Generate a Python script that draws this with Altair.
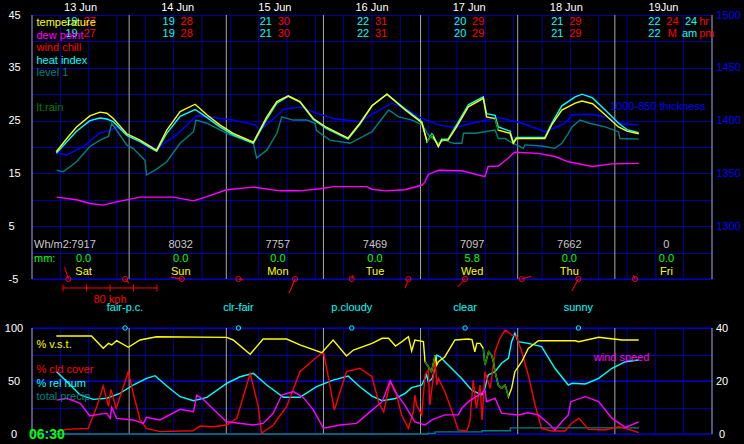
import altair as alt
import pandas as pd

# ---------------- data (x = hours since 13 Jun 00:00) ----------------
day_hours = [0, 24, 48, 72, 96, 120, 144, 168]
grid_hours = list(range(0, 169, 7))
noon_hours = [12, 36, 60, 84, 108, 132, 156]
date_labels = ["13 Jun", "14 Jun", "15 Jun", "16 Jun", "17 Jun", "18 Jun", "19Jun"]
day_names = ["Sat", "Sun", "Mon", "Tue", "Wed", "Thu", "Fri"]
tmin_row1 = ["19", "19", "21", "22", "20", "21", "22"]
tmax_row1 = ["27", "28", "30", "31", "29", "29", "24"]
tmin_row2 = ["19", "19", "21", "22", "20", "21", "22"]
tmax_row2 = ["27", "28", "30", "31", "29", "29", "M"]
unit_cyan = ["24", "am"]
unit_red = ["hr", "pm"]
solar_values = ["7917", "8032", "7757", "7469", "7097", "7662", "0"]
rain_mm = ["0.0", "0.0", "0.0", "0.0", "5.8", "0.0", "0.0"]
wx_hours = [23, 51, 79, 107, 135]
wx_labels = ["fair-p.c.", "clr-fair", "p.cloudy", "clear", "sunny"]

barb_hours = [9, 23, 37, 51, 65, 79, 93, 107, 121, 135, 149]
barb_dir = [342, 138, 279, 101, 203, 18, 200, 223, 74, 209, 335]
barb_kph = [10.7, 5.1, 9.4, 4.3, 13.2, 3.6, 8.4, 9.0, 8.3, 11.7, 3.4]
kph_ticks = [0, 20, 40, 60, 80]

temp_h = [6, 8.6, 11, 14.3, 16.8, 18.5, 20.1, 23.4, 26.7, 30.0,
          30.8, 33.3, 36.6, 40.3, 43.2, 46.4, 49.7, 54.7, 58, 60.5,
          63.3, 66.2, 69.5, 72.8, 78.1, 81, 84, 87.7, 92.2, 96.3,
          97.6, 98.8, 99.1, 100.4, 101.2, 102.8, 104.9, 107.8, 111.5, 112.3,
          114.4, 115.2, 118.1, 118.9, 119.7, 122.6, 126.7, 128.4, 130.9, 134.2,
          135.9, 138.5, 141.6, 144.9, 147, 149.9]
temp_v = [19.1, 21.6, 23.8, 25.9, 26.6, 26.4, 25.4, 22.5, 21.3, 19.75,
          19.4, 23.2, 26.7, 28.1, 26.1, 24.2, 22.6, 20.9, 25.7, 28.6,
          29.7, 28.6, 25.4, 23.7, 21.7, 24.5, 27.8, 30.0, 27.0, 24.6,
          21.0, 22.3, 22.0, 20.1, 21.3, 21.3, 23.8, 27.6, 29.2, 25.7,
          25.4, 23.2, 22.6, 20.7, 21.6, 21.6, 21.6, 24.2, 27.0, 28.3,
          28.7, 28.2, 26.1, 23.8, 23.0, 22.5]
heat_v = [18.8, 21.0, 23.0, 25.0, 25.5, 25.3, 24.8, 22.2, 21.0, 19.5,
          19.2, 22.6, 25.8, 27.1, 25.6, 23.8, 22.3, 20.7, 25.3, 28.3,
          29.6, 28.5, 25.2, 23.5, 21.5, 24.3, 27.8, 30.0, 27.2, 24.8,
          21.0, 22.5, 22.2, 20.1, 21.5, 21.5, 24.2, 28.0, 29.5, 26.3,
          26.0, 23.8, 23.0, 20.9, 21.8, 21.8, 21.8, 24.5, 27.8, 29.5,
          30.0, 29.3, 27.0, 24.5, 23.3, 22.7]
dew_h = [6.1, 11, 14.3, 17.6, 20.9, 26.7, 34.9, 39.9, 43.2, 48.1,
         54.7, 61.3, 66.2, 71.2, 74.4, 82.7, 84, 87.3, 92.2, 96.4,
         97.1, 97.9, 100.4, 106.2, 111.9, 112.7, 115.2, 117.7, 118.9, 119.3,
         125.1, 129.2, 132.5, 138.4, 143.3, 149.9]
dew_v = [10.5, 10.0, 9.3, 9.0, 9.6, 10.5, 10.5, 9.8, 10.6, 11.9,
         12.4, 11.7, 11.7, 12.1, 12.5, 12.5, 12.0, 11.7, 11.9, 12.8,
         13.4, 14.8, 15.6, 15.5, 14.4, 16.3, 16.4, 17.9, 18.8, 19.0,
         18.8, 18.2, 17.2, 16.3, 16.8, 16.9]
lvl_h = [6.1, 7.7, 11, 14.3, 16.8, 18.9, 19.7, 23.4, 25, 27.9,
         28.3, 30.8, 33.3, 36.6, 39.9, 40.5, 43.2, 48.1, 54.7, 55.5,
         58, 60.5, 61.7, 64.5, 67.9, 69.9, 70.3, 73.6, 78.6, 84,
         88.1, 90.6, 93.9, 96.4, 97.9, 100.4, 102, 104.1, 106.2, 106.6,
         109.5, 111.9, 114.4, 115.2, 116.9, 118.1, 121.4, 121.8, 125.9, 129.2,
         130.9, 132.5, 133.4, 135.4, 137.7, 141.6, 144.9, 145.3, 149.9]
lvl_v = [15.6, 15.3, 17.2, 20.1, 21.3, 22.0, 24.5, 20.4, 19.75, 17.5,
         14.7, 15.8, 17.2, 20.7, 22.9, 25.1, 24.5, 22.6, 20.7, 17.9,
         19.4, 22.6, 25.7, 25.1, 25.1, 24.5, 23.1, 21.3, 20.7, 22.9,
         27.0, 25.7, 25.1, 24.2, 22.3, 20.7, 21.3, 20.7, 20.7, 22.6,
         22.6, 22.9, 23.2, 21.6, 21.6, 21.0, 19.75, 20.4, 20.2, 19.75,
         20.7, 22.6, 23.8, 25.1, 24.5, 23.8, 22.9, 21.6, 21.5]
thk_h = [6.1, 8.6, 12.7, 16.8, 19.3, 20.9, 24.2, 27.5, 30.8, 35.7,
         40.7, 44.8, 49.7, 55.1, 56.3, 59.6, 62.1, 66.2, 70.3, 74.4,
         81, 84, 88.9, 92.2, 96.4, 100.4, 104.5, 108.7, 115.3, 121.1,
         126.8, 131.8, 133.4, 138.4, 141.6, 145.8, 149.9]
thk_v = [1369.5, 1367.5, 1375.5, 1388.5, 1390.5, 1394, 1385, 1378.5, 1373.7, 1386.5,
         1404.5, 1403, 1400.5, 1396, 1391, 1401.5, 1410.5, 1413, 1407, 1402,
         1399, 1406, 1416.5, 1411.5, 1402, 1396, 1393.5, 1397.5, 1403, 1397.5,
         1389.5, 1397.5, 1405.5, 1406, 1403.5, 1397, 1396]
temp_rain_periods = [(96.8, 99.8), (114.3, 115.8)]

vst_h = [6, 14.7, 17.6, 18.9, 19.7, 20.9, 23.8, 26.7, 30.8, 48.1,
         49.7, 53.9, 57.1, 62.9, 66.2, 71.6, 74.4, 77.7, 79.4, 84,
         86.5, 88.1, 89.8, 91.4, 93, 93.8, 94.6, 96.7, 97.1, 97.9,
         98.7, 99.6, 100, 100.4, 102, 104.5, 107.8, 108.7, 109.4, 109.9,
         110.7, 111.5, 111.9, 112.8, 113.6, 114, 114.4, 115.2, 116, 116.9,
         117.7, 118.5, 119.3, 121, 122.6, 125.1, 134.2, 135.1, 140, 145.8,
         149.9]
vst_v = [92.5, 92.5, 80.8, 85.5, 84, 88, 81.8, 88.7, 91.8, 91.2,
         88.7, 75.2, 89.6, 89.6, 84, 76.7, 88.7, 73.6, 79.2, 85.5,
         90.3, 90.3, 83, 87.1, 91.8, 78.3, 88.7, 87.1, 68.2, 63.5,
         58.8, 74.5, 65.1, 68.2, 72.9, 88.7, 89.6, 89, 77.6, 85.5,
         85.5, 80.8, 65.1, 77.6, 74, 68.2, 58.8, 46.2, 43.1, 46.2,
         35.2, 43.1, 58.8, 68.2, 80.8, 88, 88, 87.1, 91.2, 88.7,
         88.7]
vst_rain_periods = [(96.8, 99.6), (111.3, 118.3)]
cld_h = [6.1, 8.6, 13.9, 14.7, 16, 17.6, 18.9, 19.5, 20.8, 23.8,
         25, 26.7, 28.3, 31.6, 39.8, 41.5, 44.8, 48.1, 50.6, 53.9,
         55.9, 56.7, 59.6, 62.9, 66.2, 69.5, 72, 73.2, 74.7, 77.7,
         81, 84, 85.7, 86.9, 88.5, 89.8, 91.3, 93, 94.2, 94.6,
         95, 96.3, 97.1, 97.9, 98.3, 99.1, 99.6, 100, 100.4, 102,
         104.1, 105.3, 107.4, 108.2, 109, 109.8, 110.7, 111.2, 111.9, 113.2,
         114.4, 115.6, 116.9, 118.5, 119.7, 121, 122.6, 124.3, 125.9, 128.4,
         131.7, 133.3, 135.1, 137.5, 141.6, 144.9, 147.4, 149.9]
cld_v = [2.2, 4.4, 5.3, 13.2, 25.8, 45.3, 26, 42.1, 24.2, 58.8,
         38.4, 13.2, 5.3, 2.2, 3.1, 7.5, 6.9, 8.5, 14.8, 57.2,
         25.8, 0.6, 8.5, 25.8, 58.8, 69.8, 77.6, 54, 22.6, 58.8,
         62, 54, 29, 21, 49.3, 41, 17.9, 5.3, 21, 36.8,
         27.4, 17.9, 55.7, 60.4, 27.4, 52.5, 71.4, 46.2, 52.5, 39.9,
         17.9, 3.8, 2.8, 11.6, 50.9, 24.2, 46.2, 13.2, 58.8, 43.1,
         77.6, 90.3, 98.1, 93.4, 91.8, 77.6, 55.7, 27.4, 5.3, 2.8,
         2.8, 10.1, 14.8, 4.4, 3.8, 6.9, 4.4, 1.3]
rh_h = [6.1, 8.6, 11.9, 15.1, 18.5, 21.7, 25, 28.3, 30.4, 33.3,
        36.6, 39.9, 43.2, 48.1, 51.4, 54.7, 58, 62.1, 66.2, 70.3,
        74.4, 78.1, 81, 84, 86.5, 89.8, 92.2, 93.8, 96.3, 97.1,
        97.5, 97.9, 98.8, 99.6, 100, 100.8, 102, 106.1, 108.6, 111.1,
        111.9, 112.7, 114.4, 116, 117.7, 118.5, 119.3, 120.1, 122.6, 125.9,
        129.2, 132.5, 133.4, 136.7, 140, 143.3, 146.6, 149.9]
rh_v = [58.8, 49.3, 36.8, 32.7, 33.7, 38.4, 46.2, 52.5, 55, 45.3,
        35.2, 31.4, 34.6, 47.8, 54, 57.2, 46.2, 34.6, 34.6, 44.6,
        50.9, 54.7, 44.6, 35.8, 31.4, 33.5, 38.4, 43.7, 46.2, 52.5,
        55.7, 49.3, 52, 62, 74.5, 72.9, 68.2, 52.5, 41.5, 36.8,
        43.1, 55.7, 58.8, 66.7, 71.4, 87.1, 95, 87.1, 85.5, 82.4,
        62, 46.2, 47.8, 47.2, 52.5, 62, 68.2, 69.8]
wind_h = [6.1, 8.6, 11.9, 14.3, 16.8, 18.5, 19.3, 19.7, 20.9, 25,
          27.5, 28.3, 31.6, 36.6, 39.9, 40.7, 42.3, 44.8, 48.1, 54.7,
          57.1, 59.6, 61.7, 64.6, 67, 69.5, 72, 76.1, 80.2, 84,
          86.5, 88.5, 89.7, 92.1, 94.6, 97.1, 98.8, 102, 105.3, 106.2,
          107.8, 111.1, 111.9, 112.3, 114.4, 116, 120.1, 122.6, 125.1, 127.6,
          129.2, 130.9, 132.5, 133.1, 136.7, 140, 143.3, 146.6, 149.9]
wind_v = [12.8, 13.5, 11.6, 6.8, 7.5, 7.8, 5.9, 10.1, 5.9, 5.3,
          4, 6.3, 5.3, 9.3, 8.4, 14.7, 13.1, 9.3, 4.6, 3.4,
          4, 7.8, 14.7, 16, 13.8, 9.1, 2.2, 3.4, 4, 9,
          12.2, 20.1, 16, 10.9, 4.6, 3.4, 5.3, 7.2, 7.2, 9.7,
          12.2, 15.4, 16.6, 12.2, 13.5, 7.8, 7.2, 8, 7.2, 4,
          1.5, 4.6, 7.2, 12.2, 14.1, 12.2, 5.9, 2.5, 4.6]
precip_h = [6, 97.8, 99.6, 111.2, 118.2, 150]
precip_v = [0, 0.6, 2.0, 3.0, 5.8, 5.8]

top_legend_labels = ["temperature", "dew point", "wind chill", "heat index", "level 1", "lt.rain"]
bot_legend_labels = ["% v.s.t.", "% cld cover", "% rel hum", "total precip"]

# ---------------- style / layout ----------------
FONT = "Liberation Sans"
GRID = "#00009c"
BRIGHT = "#0000f0"
SEP = "#a8a8a8"
YEL, CYN, MAG, RED = "#ffff00", "#00ffff", "#ff00ff", "#ff0000"
TEAL, DGRN, GRN, BLUE = "#008080", "#008000", "#00ff00", "#0000ff"
LGREY = "#c8c8c8"
LW = 1.4

W, H = 680, 419
TOP_DOM, TOP_RNG = [-5, 45], [264, 0]
THK_DOM = [1250, 1500]
BOT_DOM, BOT_RNG = [0, 100], [419, 313]
WND_DOM = [0, 40]

Y_DATE, Y_ROW1, Y_ROW2 = 46.3, 43.7, 41.4
Y_SOLAR, Y_MM, Y_DAY = 1.4, -1.2, -3.6
Y_BARB, Y_BAR, Y_KPH = -5, -6.7, -9.0
Y_WX, Y_CIRC, Y_CLOCK = 118.9, 100, -0.9
TOP_LEGEND_Y = [43.5, 41.1, 38.7, 36.3, 34.0, 27.3]
TOP_LEGEND_C = [YEL, MAG, RED, CYN, TEAL, DGRN]
BOT_LEGEND_Y = [84, 60.2, 47, 34.5]
BOT_LEGEND_C = [YEL, RED, CYN, TEAL]
LEGEND_H = 1.1
UNIT_H = 164.6
THK_LABEL = (142.8, 27.6)
WIND_LABEL = (138.8, 71.4)
BAR_START_H, BAR_PX, PX_PER_H = 7.66, 94, 680 / 168


def sc(dom, rng):
    return alt.Scale(domain=dom, range=rng, nice=False, zero=False)


SCALES = {
    "top": sc(TOP_DOM, TOP_RNG),
    "thk": sc(THK_DOM, TOP_RNG),
    "bot": sc(BOT_DOM, BOT_RNG),
    "wnd": sc(WND_DOM, BOT_RNG),
}
AX = dict(domain=False, ticks=False, tickSize=0, title=None, labelFont=FONT,
          labelFontSize=11, labelOverlap=False, labelColor="white")
AX_TOP = alt.Axis(orient="left", values=list(range(-5, 50, 5)),
                  labelExpr="((datum.value + 5) % 10 == 0) ? toString(datum.value) : ''",
                  grid=True, gridColor=GRID, labelAlign="left", labelPadding=24, **AX)
AX_THK = alt.Axis(orient="right", values=[1300, 1350, 1400, 1450, 1500], grid=False,
                  labelExpr="toString(datum.value)",
                  labelAlign="left", labelPadding=4,
                  **{**AX, "labelColor": BLUE})
AX_BOT = alt.Axis(orient="left", values=[0, 25, 50, 75, 100],
                  labelExpr="(datum.value % 50 == 0) ? toString(datum.value) : ''",
                  grid=True, gridColor=GRID, labelAlign="center", labelPadding=18.5, **AX)
AX_WND = alt.Axis(orient="right", values=[0, 20, 40], grid=False,
                  labelExpr="toString(datum.value)",
                  labelAlign="center", labelPadding=9.5, **AX)

X = alt.X("h:Q", scale=alt.Scale(domain=[0, 168], nice=False, zero=False), axis=None)


def Y(panel, field="v", axis=None):
    return alt.Y(f"{field}:Q", scale=SCALES[panel], axis=axis)


def series(hs, vs):
    return pd.DataFrame({"h": hs, "v": vs})


def line(hs, vs, color, panel, axis=None, interp="linear"):
    return alt.Chart(series(hs, vs)).mark_line(color=color, strokeWidth=LW, interpolate=interp).encode(
        x=X, y=Y(panel, axis=axis))


def rain_segments(hs, vs, periods):
    rows = []
    for k, (a, b) in enumerate(periods):
        for h, v in zip(hs, vs):
            if a <= h <= b:
                rows.append({"h": h, "v": v, "seg": k})
    return pd.DataFrame(rows)


def vrules(hours, color, panel, dom, axis=None, width=1):
    d = pd.DataFrame({"h": hours, "v": dom[1], "v2": dom[0]})
    return alt.Chart(d).mark_rule(color=color, strokeWidth=width).encode(
        x=X, y=Y(panel, axis=axis), y2="v2:Q")


def hrule(level, color, panel):
    d = pd.DataFrame({"h": [0], "h2": [168], "v": [level]})
    return alt.Chart(d).mark_rule(color=color, strokeWidth=1).encode(x=X, x2="h2:Q", y=Y(panel))


def texts(hs, labels, ys, color, panel, align="center", dx=0, size=11, weight="normal"):
    n = len(labels)
    d = pd.DataFrame({
        "h": hs if isinstance(hs, list) else [hs] * n,
        "v": ys if isinstance(ys, list) else [ys] * n,
        "t": labels,
        "c": color if isinstance(color, list) else [color] * n,
    })
    return alt.Chart(d).mark_text(align=align, dx=dx, fontSize=size, fontWeight=weight,
                                  font=FONT, baseline="middle").encode(
        x=X, y=Y(panel), text="t:N", color=alt.Color("c:N", scale=None))


layers = []
# grids and separators
layers.append(vrules(grid_hours, GRID, "top", TOP_DOM, axis=AX_TOP))
layers.append(vrules(grid_hours, GRID, "bot", BOT_DOM, axis=AX_BOT))
layers.append(hrule(-5, BRIGHT, "top"))
for lv in [0, 50, 100]:
    layers.append(hrule(lv, BRIGHT, "bot"))
layers.append(vrules(day_hours, SEP, "top", TOP_DOM))
layers.append(vrules(day_hours, SEP, "bot", BOT_DOM))

# top panel series
layers.append(line(thk_h, thk_v, BLUE, "thk", axis=AX_THK))
layers.append(line(lvl_h, lvl_v, TEAL, "top"))
layers.append(line(dew_h, dew_v, MAG, "top"))
layers.append(line(temp_h, heat_v, CYN, "top"))
layers.append(line(temp_h, temp_v, YEL, "top"))
layers.append(alt.Chart(rain_segments(temp_h, temp_v, temp_rain_periods)).mark_line(
    color=DGRN, strokeWidth=LW).encode(x=X, y=Y("top"), detail="seg:N"))

# bottom panel series
layers.append(line(precip_h, precip_v, TEAL, "bot", interp="step-after"))
layers.append(line(rh_h, rh_v, CYN, "bot"))
layers.append(line(cld_h, cld_v, RED, "bot"))
layers.append(line(vst_h, vst_v, YEL, "bot"))
layers.append(alt.Chart(rain_segments(vst_h, vst_v, vst_rain_periods)).mark_line(
    color=DGRN, strokeWidth=LW).encode(x=X, y=Y("bot"), detail="seg:N"))
layers.append(line(wind_h, wind_v, MAG, "wnd", axis=AX_WND))

# top panel texts
layers.append(texts(noon_hours, date_labels, Y_DATE, "white", "top"))
layers.append(texts(noon_hours, tmin_row1, Y_ROW1, CYN, "top", dx=-9))
layers.append(texts(noon_hours, tmax_row1, Y_ROW1, RED, "top", dx=9))
layers.append(texts(noon_hours, tmin_row2, Y_ROW2, CYN, "top", dx=-9))
layers.append(texts(noon_hours, tmax_row2, Y_ROW2, RED, "top", dx=9))
layers.append(texts(UNIT_H, unit_cyan, [Y_ROW1, Y_ROW2], CYN, "top", align="right", dx=-1))
layers.append(texts(UNIT_H, unit_red, [Y_ROW1, Y_ROW2], RED, "top", align="left", dx=1))
layers.append(texts(LEGEND_H, top_legend_labels, TOP_LEGEND_Y, TOP_LEGEND_C, "top", align="left"))
layers.append(texts(THK_LABEL[0], ["1000-850 thickness"], THK_LABEL[1], BLUE, "top", align="left"))
layers.append(texts(0.5, ["Wh/m2:"], Y_SOLAR, LGREY, "top", align="left"))
layers.append(texts(noon_hours, solar_values, Y_SOLAR, LGREY, "top", dx=3))
layers.append(texts(0.5, ["mm:"], Y_MM, GRN, "top", align="left"))
layers.append(texts(noon_hours, rain_mm, Y_MM, GRN, "top", dx=3))
layers.append(texts(noon_hours, day_names, Y_DAY, YEL, "top", dx=3))

# wind barbs
barbs = pd.DataFrame({"h": barb_hours, "v": Y_BARB, "dir": barb_dir, "kph": barb_kph})
layers.append(alt.Chart(barbs).mark_point(shape="M0,0L0,-1", filled=False, color=RED,
                                          strokeWidth=1, opacity=1).encode(
    x=X, y=Y("top"), angle=alt.Angle("dir:Q", scale=None),
    size=alt.Size("kph:Q", scale=alt.Scale(type="pow", exponent=2, domain=[0, 80],
                                           range=[0, 4 * BAR_PX ** 2]), legend=None)))
layers.append(alt.Chart(barbs).mark_point(shape="circle", size=26, filled=False, color=RED,
                                          strokeWidth=1, opacity=1).encode(x=X, y=Y("top")))
# speed scale bar
h_per_kph = BAR_PX / 80 / PX_PER_H
bar_df = pd.DataFrame({"h": [BAR_START_H], "h2": [BAR_START_H + kph_ticks[-1] * h_per_kph], "v": [Y_BAR]})
layers.append(alt.Chart(bar_df).mark_rule(color=RED, strokeWidth=1).encode(x=X, x2="h2:Q", y=Y("top")))
tick_df = pd.DataFrame({"h": [BAR_START_H + k * h_per_kph for k in kph_ticks], "v": Y_BAR})
layers.append(alt.Chart(tick_df).mark_tick(orient="vertical", size=7, thickness=1, color=RED,
                                           opacity=1).encode(x=X, y=Y("top")))
layers.append(texts(BAR_START_H + 40 * h_per_kph, [f"{kph_ticks[-1]} kph"], Y_KPH, RED, "top"))

# bottom panel texts
layers.append(texts(wx_hours, wx_labels, Y_WX, CYN, "bot"))
circ = pd.DataFrame({"h": wx_hours, "v": Y_CIRC})
layers.append(alt.Chart(circ).mark_point(shape="circle", size=20, filled=False, color=CYN,
                                         strokeWidth=1, opacity=1).encode(x=X, y=Y("bot")))
layers.append(texts(LEGEND_H, bot_legend_labels, BOT_LEGEND_Y, BOT_LEGEND_C, "bot", align="left"))
layers.append(texts(WIND_LABEL[0], ["wind speed"], WIND_LABEL[1], MAG, "bot", align="left"))
layers.append(texts(0, ["06:30"], Y_CLOCK, GRN, "bot", align="left", dx=-3, size=14, weight="bold"))

chart = alt.layer(*layers).resolve_scale(y="independent").properties(
    width=W, height=H, background="black",
    padding={"left": 32, "top": 15, "right": 32, "bottom": 10},
    autosize=alt.AutoSizeParams(type="none"),
).configure_view(stroke=None)

chart.save("out.html", embed_options={"renderer": "svg", "actions": False})
